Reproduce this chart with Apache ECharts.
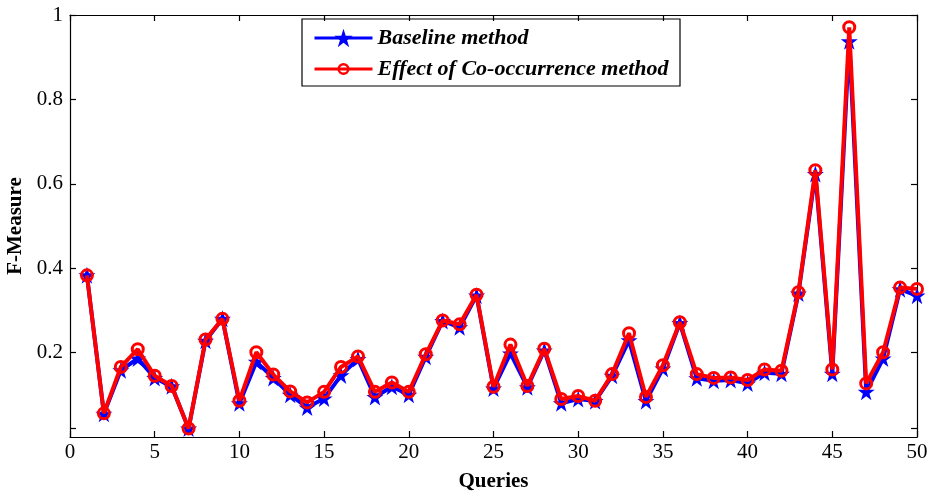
<!DOCTYPE html>
<html>
<head>
<meta charset="utf-8">
<script src="https://cdn.jsdelivr.net/npm/echarts@6/dist/echarts.min.js"></script>
<style>
html,body{margin:0;padding:0;background:#fff;}
#chart{width:933px;height:496px;}
</style>
</head>
<body>
<div id="chart"></div>
<script>
var queries = [1,2,3,4,5,6,7,8,9,10,11,12,13,14,15,16,17,18,19,20,21,22,23,24,25,26,27,28,29,30,31,32,33,34,35,36,37,38,39,40,41,42,43,44,45,46,47,48,49,50];
var baseline = [0.383,0.055,0.158,0.186,0.140,0.120,0.020,0.228,0.280,0.080,0.178,0.140,0.100,0.070,0.091,0.146,0.185,0.095,0.119,0.100,0.190,0.275,0.260,0.335,0.115,0.198,0.118,0.205,0.080,0.090,0.085,0.145,0.229,0.085,0.162,0.270,0.139,0.133,0.135,0.127,0.152,0.150,0.340,0.623,0.150,0.938,0.107,0.186,0.350,0.335];
var cooccur = [0.383,0.056,0.166,0.208,0.145,0.121,0.020,0.231,0.280,0.086,0.201,0.148,0.108,0.082,0.107,0.166,0.191,0.107,0.129,0.107,0.196,0.276,0.267,0.337,0.119,0.219,0.121,0.209,0.090,0.097,0.086,0.149,0.246,0.095,0.170,0.272,0.149,0.140,0.141,0.135,0.160,0.157,0.343,0.632,0.160,0.971,0.127,0.201,0.354,0.351];
var seriesNames = ['Baseline method','Effect of Co-occurrence method'];
var xTicks = [0,5,10,15,20,25,30,35,40,45,50];
var yTickValues = [0.02,0.2,0.4,0.6,0.8,1];
var yLabelValues = [0.2,0.4,0.6,0.8,1];

function pairs(xs, ys){ return xs.map(function(x,i){ return [x, ys[i]]; }); }

var star = 'path://M50,0 L61.8,35.4 L99,35.4 L69,57.3 L80.4,93 L50,71 L19.6,93 L31,57.3 L1,35.4 L38.2,35.4 Z';
var FONT = '"Liberation Serif","Times New Roman",serif';
var axisLineStyle = {color:'#000', width:1.2};
var legendText = {fontFamily:FONT, fontSize:22, fontWeight:'bold', fontStyle:'italic', color:'#000', lineHeight:24};

var chart = echarts.init(document.getElementById('chart'), null, {renderer:'canvas'});
chart.setOption({
  animation:false,
  backgroundColor:'#fff',
  grid:{left:70, right:16, top:15, bottom:59, containLabel:false, outerBoundsMode:'none'},
  legend:[{
    left:308, top:21, orient:'vertical', padding:5,
    itemWidth:58, itemHeight:23,
    lineStyle:{width:3},
    textStyle:legendText,
    data:[seriesNames[0]]
  },{
    left:308, top:52, orient:'vertical', padding:5,
    itemWidth:58, itemHeight:12,
    lineStyle:{width:3},
    itemStyle:{borderWidth:2.5},
    textStyle:legendText,
    data:[seriesNames[1]]
  }],
  graphic:[{type:'rect', shape:{x:302, y:19, width:378, height:67}, style:{fill:'none', stroke:'#000', lineWidth:1.2}, z:100}],
  xAxis:[{
    type:'value', min:0, max:50, interval:5, position:'bottom',
    name:'Queries', nameLocation:'middle', nameGap:34,
    nameTextStyle:{fontFamily:FONT, fontSize:21, fontWeight:'bold', color:'#000'},
    axisLine:{onZero:false, lineStyle:axisLineStyle},
    axisTick:{inside:true, length:6, lineStyle:axisLineStyle},
    axisLabel:{fontFamily:FONT, fontSize:21, color:'#000', margin:5},
    splitLine:{show:false}
  },{
    type:'value', min:0, max:50, interval:5, position:'top',
    axisLine:{onZero:false, lineStyle:axisLineStyle},
    axisTick:{inside:true, length:6, lineStyle:axisLineStyle},
    axisLabel:{show:false}, splitLine:{show:false}
  }],
  yAxis:[{
    type:'value', min:0, max:1, position:'left',
    name:'F-Measure', nameLocation:'middle', nameGap:39,
    nameTextStyle:{fontFamily:FONT, fontSize:21, fontWeight:'bold', color:'#000'},
    axisLine:{show:true, onZero:false, lineStyle:axisLineStyle},
    axisTick:{show:true, inside:true, length:6, lineStyle:axisLineStyle, customValues:yTickValues},
    axisLabel:{fontFamily:FONT, fontSize:21, color:'#000', margin:7, customValues:yLabelValues,
      formatter:function(v){ return String(v); }},
    splitLine:{show:false}
  },{
    type:'value', min:0, max:1, position:'right',
    axisLine:{show:true, onZero:false, lineStyle:axisLineStyle},
    axisTick:{show:true, inside:true, length:6, lineStyle:axisLineStyle, customValues:yTickValues},
    axisLabel:{show:false}, splitLine:{show:false}
  }],
  series:[{
    name:seriesNames[0], type:'line', xAxisIndex:0, yAxisIndex:0,
    data:pairs(queries, baseline),
    symbol:star, symbolSize:17, showAllSymbol:true,
    lineStyle:{color:'#0000ff', width:4},
    itemStyle:{color:'#0000ff', borderWidth:0},
    emphasis:{disabled:true}, z:2
  },{
    name:seriesNames[1], type:'line', xAxisIndex:0, yAxisIndex:0,
    data:pairs(queries, cooccur),
    symbol:'circle', symbolSize:11, showAllSymbol:true,
    lineStyle:{color:'#ff0000', width:4},
    itemStyle:{color:'rgba(0,0,0,0)', borderColor:'#ff0000', borderWidth:3},
    emphasis:{disabled:true}, z:3
  }]
});
</script>
</body>
</html>
